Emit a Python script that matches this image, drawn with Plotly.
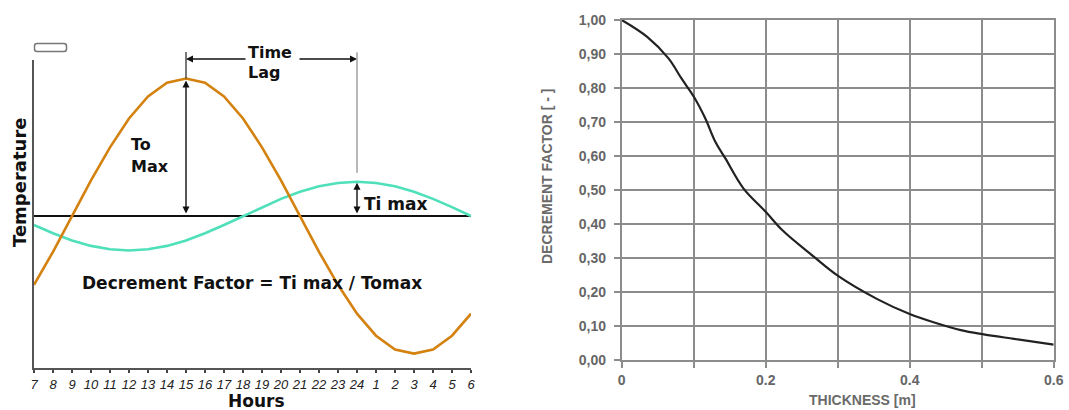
import plotly.graph_objects as go

W, H = 1069, 410

# ---------------- Left chart data ----------------
hour_labels = ["7", "8", "9", "10", "11", "12", "13", "14", "15", "16", "17", "18",
               "19", "20", "21", "22", "23", "24", "1", "2", "3", "4", "5", "6"]
outside_temp = [-0.50, -0.26, 0.00, 0.26, 0.50, 0.71, 0.87, 0.97, 1.00, 0.97, 0.87, 0.71,
                0.50, 0.26, 0.00, -0.26, -0.50, -0.71, -0.87, -0.97, -1.00, -0.97, -0.87, -0.71]
inside_temp = [-0.065, -0.125, -0.177, -0.217, -0.241, -0.250, -0.241, -0.217, -0.177, -0.125,
               -0.065, 0.000, 0.065, 0.125, 0.177, 0.217, 0.241, 0.250, 0.241, 0.217, 0.177,
               0.125, 0.065, 0.000]

# ---------------- Right chart data ----------------
thickness = [0.000, 0.035, 0.065, 0.083, 0.100, 0.116, 0.130, 0.144, 0.169, 0.200,
             0.224, 0.265, 0.300, 0.355, 0.400, 0.433, 0.471, 0.501, 0.545, 0.600]
decrement = [1.000, 0.951, 0.887, 0.828, 0.775, 0.711, 0.642, 0.593, 0.505, 0.436,
             0.380, 0.307, 0.248, 0.179, 0.135, 0.111, 0.088, 0.076, 0.062, 0.045]
df_tickvals = [0.0, 0.1, 0.2, 0.3, 0.4, 0.5, 0.6, 0.7, 0.8, 0.9, 1.0]
df_ticktext = ["0,00", "0,10", "0,20", "0,30", "0,40", "0,50", "0,60", "0,70", "0,80", "0,90", "1,00"]
th_tickvals = [0.0, 0.1, 0.2, 0.3, 0.4, 0.5, 0.6]
th_ticktext = ["0", "", "0.2", "", "0.4", "", "0.6"]

hour_idx = list(range(len(hour_labels)))

# ---------------- layout geometry (pixels) ----------------
L_X0, L_X1, L_Y0, L_Y1 = 34, 471, 60, 368
R_X0, R_X1, R_Y0, R_Y1 = 621.7, 1053.7, 20, 360


def px(xp):
    return xp / W


def py(yp):
    return 1 - yp / H


def xdata(xp):
    return (xp - L_X0) / (L_X1 - L_X0) * (len(hour_labels) - 1)


ORANGE = "#D4820F"
TEAL = "#4FE0BA"

fig = go.Figure()
fig.add_trace(go.Scatter(x=hour_idx, y=inside_temp, mode="lines",
                         line=dict(color=TEAL, width=2.6), xaxis="x", yaxis="y",
                         hoverinfo="skip"))
fig.add_trace(go.Scatter(x=hour_idx, y=outside_temp, mode="lines",
                         line=dict(color=ORANGE, width=2.6), xaxis="x", yaxis="y",
                         hoverinfo="skip"))
fig.add_trace(go.Scatter(x=thickness, y=decrement, mode="lines", line_shape="spline",
                         line=dict(color="#222222", width=2.2), xaxis="x2", yaxis="y2",
                         hoverinfo="skip"))

i15 = hour_labels.index("15")
i24 = hour_labels.index("24")
to_max = max(outside_temp)
ti_max = max(inside_temp)

BOLD = dict(family="DejaVu Sans", weight="bold", color="#111111")

ann = []
# To max double arrow
ann.append(dict(x=i15, y=to_max, xref="x", yref="y", ax=i15, ay=0, axref="x", ayref="y",
                showarrow=True, arrowside="end+start", arrowhead=2, arrowsize=1,
                arrowwidth=1.4, arrowcolor="#111111", standoff=2, startstandoff=1, text=""))
# line above peak at hour 15
ann.append(dict(x=i15, y=to_max, xref="x", yref="y", ax=0, ay=-28, showarrow=True,
                arrowhead=0, arrowwidth=1.3, arrowcolor="#333333", text=""))
# time lag arrows
ann.append(dict(x=i15, y=py(59), xref="x", yref="paper", ax=xdata(247), ay=0, axref="x",
                ayref="pixel", showarrow=True, arrowhead=2, arrowsize=1, arrowwidth=1.4,
                arrowcolor="#111111", text=""))
ann.append(dict(x=i24, y=py(59), xref="x", yref="paper", ax=xdata(298), ay=0, axref="x",
                ayref="pixel", showarrow=True, arrowhead=2, arrowsize=1, arrowwidth=1.4,
                arrowcolor="#111111", text=""))
# line above inside peak at hour 24
ann.append(dict(x=i24, y=ti_max, xref="x", yref="y", ax=0, ay=-131, standoff=9,
                showarrow=True, arrowhead=0, arrowwidth=1.2, arrowcolor="#888888", text=""))
# Ti max double arrow
ann.append(dict(x=i24, y=ti_max, xref="x", yref="y", ax=i24, ay=0, axref="x", ayref="y",
                showarrow=True, arrowside="end+start", arrowhead=2, arrowsize=1,
                arrowwidth=1.4, arrowcolor="#111111", standoff=1, startstandoff=1, text=""))


def txt(t, x, y, size, xanchor="left", angle=0, font=None):
    f = dict(BOLD) if font is None else dict(font)
    f["size"] = size
    return dict(text=t, x=px(x), y=py(y), xref="paper", yref="paper", showarrow=False,
                xanchor=xanchor, yanchor="middle", textangle=angle, font=f)


ann.append(txt("Time", 246, 52, 16))
ann.append(txt("Lag", 246, 73, 16))
ann.append(txt("To", 129, 144, 16))
ann.append(txt("Max", 129, 167, 16))
ann.append(txt("Ti max", 362, 204, 17))
ann.append(txt("Decrement Factor = Ti max / Tomax", 252, 283, 17, xanchor="center"))
ann.append(txt("Temperature", 20, 183, 18, xanchor="center", angle=-90))
ann.append(txt("Hours", 256, 401, 17, xanchor="center"))

GRAYF = dict(family="Liberation Sans", weight="bold", color="#6a6a6a")
ann.append(txt("THICKNESS [m]", 862, 400, 14, xanchor="center", font=GRAYF))
ann.append(txt("DECREMENT FACTOR [ - ]", 547, 176, 14, xanchor="center", angle=-90, font=GRAYF))

# small rounded box at top-left (decoration)
bx0, bx1, by0, by1, r = 34.5, 66.5, 43.5, 51.5, 2.5
path = (f"M{px(bx0 + r)},{py(by0)} L{px(bx1 - r)},{py(by0)} "
        f"Q{px(bx1)},{py(by0)} {px(bx1)},{py(by0 + r)} L{px(bx1)},{py(by1 - r)} "
        f"Q{px(bx1)},{py(by1)} {px(bx1 - r)},{py(by1)} L{px(bx0 + r)},{py(by1)} "
        f"Q{px(bx0)},{py(by1)} {px(bx0)},{py(by1 - r)} L{px(bx0)},{py(by0 + r)} "
        f"Q{px(bx0)},{py(by0)} {px(bx0 + r)},{py(by0)} Z")
shapes = [dict(type="path", path=path, xref="paper", yref="paper",
               line=dict(color="#777777", width=1.5), fillcolor="#ffffff")]

GRID = "#8c8c8c"
TICKF = dict(family="Liberation Sans", size=14, weight="bold", color="#666666")

fig.update_layout(
    width=W, height=H, margin=dict(l=0, r=0, t=0, b=0, autoexpand=False),
    paper_bgcolor="white", plot_bgcolor="white", showlegend=False,
    annotations=ann, shapes=shapes,
    xaxis=dict(domain=[px(L_X0), px(L_X1)], range=[0, len(hour_labels) - 1],
               tickvals=hour_idx, ticktext=hour_labels, showgrid=False, zeroline=False,
               showline=True, linecolor="#555555", linewidth=2,
               ticks="outside", ticklen=3, tickwidth=1.5, tickcolor="#444444",
               tickfont=dict(family="Liberation Sans", size=13, style="italic", color="#222222"),
               automargin=False, fixedrange=True),
    yaxis=dict(domain=[py(L_Y1), py(L_Y0)], range=[-1.105, 1.135], showgrid=False,
               showticklabels=False, ticks="", zeroline=True, zerolinecolor="#111111",
               zerolinewidth=1.5, showline=True, linecolor="#555555", linewidth=2,
               automargin=False, fixedrange=True),
    xaxis2=dict(domain=[px(R_X0), px(R_X1)], range=[0, 0.6], anchor="y2",
                tickvals=th_tickvals, ticktext=th_ticktext, showgrid=True, gridcolor=GRID,
                gridwidth=1.8, zeroline=False, showline=True, mirror=True, linecolor=GRID,
                linewidth=1.8, ticks="outside", ticklen=6, tickwidth=1.8, tickcolor=GRID,
                tickfont=TICKF, automargin=False, fixedrange=True),
    yaxis2=dict(domain=[py(R_Y1), py(R_Y0)], range=[0, 1], anchor="x2",
                tickvals=df_tickvals, ticktext=df_ticktext, showgrid=True, gridcolor=GRID,
                gridwidth=1.8, zeroline=False, showline=True, mirror=True, linecolor=GRID,
                linewidth=1.8, ticks="outside", ticklen=6, tickwidth=1.8, tickcolor=GRID,
                tickfont=TICKF, ticklabelstandoff=5, automargin=False, fixedrange=True),
)

fig.write_html("out.html", config={"displayModeBar": False},
               post_script="document.body.style.margin='0';document.body.style.overflow='hidden';")
